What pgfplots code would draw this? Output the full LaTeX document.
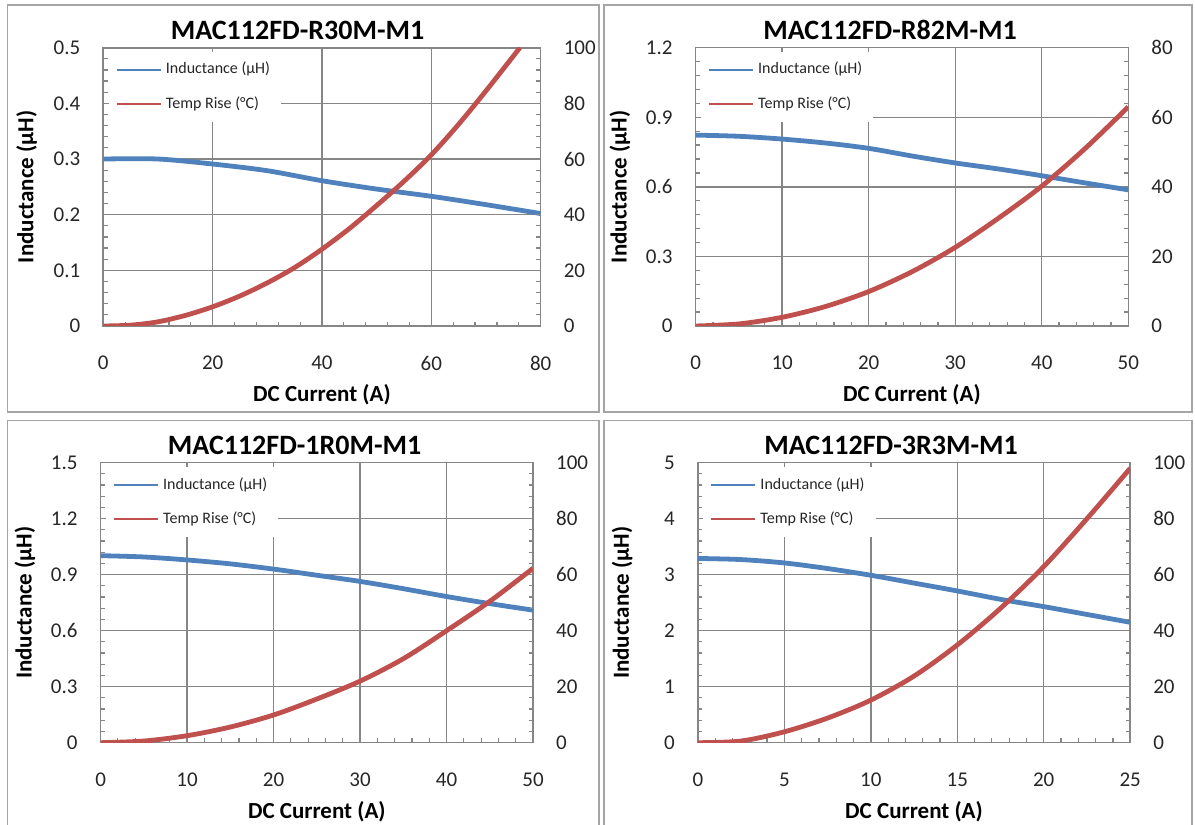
\documentclass[border=0pt]{standalone}
\usepackage{pgfplots}
\pgfplotsset{compat=1.18}
\usepackage{fontspec}
\setmainfont{Carlito}

\definecolor{indblue}{RGB}{79,129,189}
\definecolor{tempred}{RGB}{192,80,77}
\definecolor{gridgray}{RGB}{134,134,134}
\definecolor{framegray}{RGB}{165,165,165}

\pgfplotsset{
  base/.style={
    scale only axis, xmin=0, ymin=0,
    axis line style={gridgray, line width=0.8pt},
    tick style={gridgray, line width=0.6pt},
    tick align=inside, major tick length=3pt, minor tick length=2.2pt,
    minor x tick num=4, minor y tick num=4,
    ticklabel style={font=\fontsize{10.5}{12}\selectfont, text=black!85},
    /pgf/number format/assume math mode=true,
  },
  lhs/.style={
    base, grid=major, grid style={gridgray, line width=0.7pt},
    xtick pos=bottom, ytick pos=left,
    yticklabel style={xshift=-8pt},
    xticklabel style={yshift=-11.5pt},
    xlabel={DC Current (A)}, ylabel={Inductance (µH)},
    label style={font=\bfseries\fontsize{11.5}{13}\selectfont},
    xlabel style={at={(axis description cs:0.5,-0.247)}, anchor=center},
    ylabel style={at={(axis description cs:-0.175,0.5)}, anchor=center},
  },
  rhs/.style={
    base, xtick=\empty, axis line style={draw=none},
    ytick pos=right, yticklabel pos=right,
    yticklabel style={xshift=8pt},
    legend style={at={(axis description cs:0.012,0.985)}, anchor=north west,
      draw=none, fill=white, inner xsep=3.5pt, inner ysep=3pt, row sep=6pt,
      font=\fontsize{8}{9}\selectfont, text=black!85},
    legend cell align=left,
    legend image code/.code={\draw[#1, line width=1pt] (0pt,0pt) -- (22pt,0pt);},
  },
  ind/.style={indblue, line width=2.4pt, smooth},
  tmp/.style={tempred, line width=2.4pt, smooth},
}

\begin{document}
\begin{tikzpicture}
\useasboundingbox (0,0) rectangle (597.5pt,412.5pt);

% panel frames
\draw[framegray, line width=0.75pt] (3.85pt,206.5pt) rectangle (299.5pt,410pt);
\draw[framegray, line width=0.75pt] (302pt,206.5pt) rectangle (596pt,410pt);
\draw[framegray, line width=0.75pt] (3.65pt,-2pt) -- (3.65pt,202.3pt) -- (299.5pt,202.3pt) -- (299.5pt,-2pt);
\draw[framegray, line width=0.75pt] (302pt,-2pt) -- (302pt,202.3pt) -- (596pt,202.3pt) -- (596pt,-2pt);

% ---------- MAC112FD-R30M-M1 ----------
\begin{axis}[lhs, at={(51.65pt,249.5pt)}, anchor=south west,
  width=218.7pt, height=139.15pt,
  xmax=80, ymax=0.5, xtick={0,20,...,80}, ytick={0,0.1,0.2,0.3,0.4,0.5}]
\addplot[ind] coordinates {
  (0,0.300) (10,0.300) (20,0.291) (30,0.279) (40,0.261)
  (50,0.246) (60,0.233) (70,0.218) (80,0.202)};
\end{axis}
\begin{axis}[rhs, at={(51.65pt,249.5pt)}, anchor=south west,
  width=218.7pt, height=139.15pt,
  xmax=80, ymax=100, ytick={0,20,...,100}]
\addlegendimage{indblue}
\addlegendentry{Inductance (µH)}
\addplot[tmp] coordinates {
  (0,0) (5,0.3) (10,1.5) (15,3.8) (20,6.9) (25,10.8) (30,15.5)
  (35,21) (40,27.6) (45,35) (50,43.3) (55,52) (60,61.5) (65,72.5)
  (70,84.5) (76.2,100)};
\addlegendentry{Temp Rise (°C)}
\end{axis}

% ---------- MAC112FD-R82M-M1 ----------
\begin{axis}[lhs, at={(347.8pt,249.5pt)}, anchor=south west,
  width=216.35pt, height=139.15pt,
  xmax=50, ymax=1.2, xtick={0,10,...,50}, ytick={0,0.3,0.6,0.9,1.2}]
\addplot[ind] coordinates {
  (0,0.823) (5,0.818) (10,0.806) (15,0.789) (20,0.766) (25,0.733)
  (30,0.703) (35,0.677) (40,0.648) (45,0.617) (50,0.587)};
\end{axis}
\begin{axis}[rhs, at={(347.8pt,249.5pt)}, anchor=south west,
  width=216.35pt, height=139.15pt,
  xmax=50, ymax=80, ytick={0,20,...,80}]
\addlegendimage{indblue}
\addlegendentry{Inductance (µH)}
\addplot[tmp] coordinates {
  (0,0) (5,0.6) (10,2.5) (15,5.6) (20,9.9) (25,15.6) (30,22.6)
  (35,31) (40,40.2) (45,51) (50,63)};
\addlegendentry{Temp Rise (°C)}
\end{axis}

% ---------- MAC112FD-1R0M-M1 ----------
\begin{axis}[lhs, at={(50.3pt,41.15pt)}, anchor=south west,
  width=216.25pt, height=140pt,
  xmax=50, ymax=1.5, xtick={0,10,...,50}, ytick={0,0.3,0.6,0.9,1.2,1.5}]
\addplot[ind] coordinates {
  (0,1.002) (5,0.995) (10,0.979) (15,0.958) (20,0.930) (25,0.897)
  (30,0.864) (35,0.825) (40,0.783) (45,0.745) (50,0.710)};
\end{axis}
\begin{axis}[rhs, at={(50.3pt,41.15pt)}, anchor=south west,
  width=216.25pt, height=140pt,
  xmax=50, ymax=100, ytick={0,20,...,100}]
\addlegendimage{indblue}
\addlegendentry{Inductance (µH)}
\addplot[tmp] coordinates {
  (0,0) (5,0.6) (10,2.5) (15,5.6) (20,9.9) (25,15.6) (30,22)
  (35,30) (40,40) (45,50.5) (50,62.3)};
\addlegendentry{Temp Rise (°C)}
\end{axis}

% ---------- MAC112FD-3R3M-M1 ----------
\begin{axis}[lhs, at={(348.95pt,41.15pt)}, anchor=south west,
  width=216.15pt, height=140pt,
  xmax=25, ymax=5, xtick={0,5,...,25}, ytick={0,1,...,5}]
\addplot[ind] coordinates {
  (0,3.29) (2.5,3.27) (5,3.21) (7.5,3.11) (10,2.99) (12.5,2.85)
  (15,2.71) (17.5,2.56) (20,2.43) (22.5,2.29) (25,2.15)};
\end{axis}
\begin{axis}[rhs, at={(348.95pt,41.15pt)}, anchor=south west,
  width=216.15pt, height=140pt,
  xmax=25, ymax=100, ytick={0,20,...,100}]
\addlegendimage{indblue}
\addlegendentry{Inductance (µH)}
\addplot[tmp] coordinates {
  (0,0) (2.5,0.6) (5,3.9) (7.5,8.8) (10,15.2) (12.5,23.8) (15,34.9)
  (17.5,48) (20,62.9) (22.5,80) (25,98)};
\addlegendentry{Temp Rise (°C)}
\end{axis}

% titles
\begin{scope}[every node/.style={font=\bfseries\fontsize{14}{16}\selectfont}]
\node at (148.75pt,397.5pt) {MAC112FD-R30M-M1};
\node at (445pt,397.5pt) {MAC112FD-R82M-M1};
\node at (147.3pt,190pt) {MAC112FD-1R0M-M1};
\node at (445.5pt,190pt) {MAC112FD-3R3M-M1};
\end{scope}
\end{tikzpicture}
\end{document}
